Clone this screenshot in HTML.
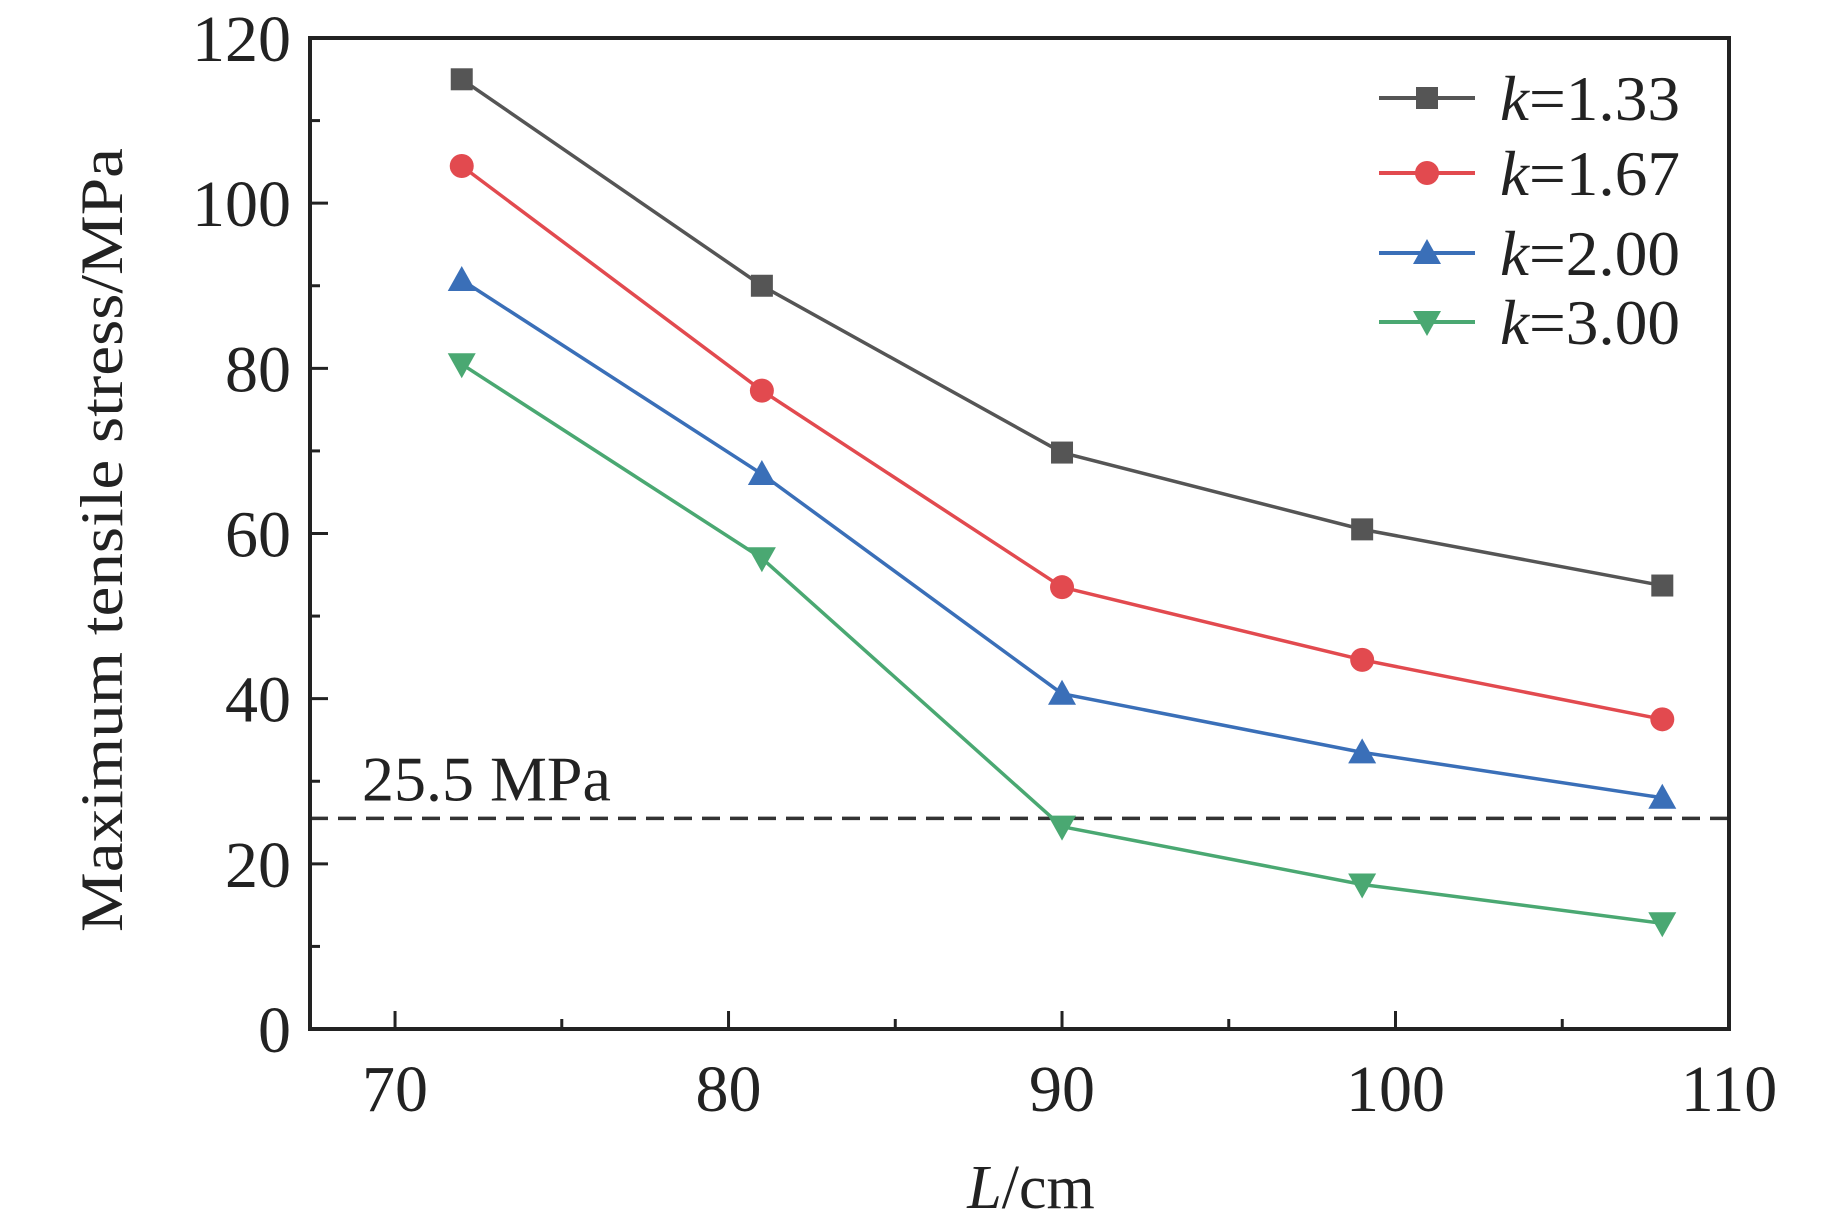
<!DOCTYPE html>
<html><head><meta charset="utf-8"><style>
html,body{margin:0;padding:0;background:#fff}
svg text{font-family:"Liberation Serif",serif;fill:#222}
</style></head><body>
<svg id="chart" width="1843" height="1220" xmlns="http://www.w3.org/2000/svg"></svg>
<script>
const categories=[72,81,90,99,108];
const s133=[115,90,69.8,60.5,53.7];
const s167=[104.5,77.3,53.5,44.7,37.5];
const s200=[90.7,67.2,40.6,33.5,28];
const s300=[80.5,57,24.5,17.5,12.8];
const seriesNames=["k=1.33","k=1.67","k=2.00","k=3.00"];
const xTicks=[70,80,90,100,110];
const yTicks=[0,20,40,60,80,100,120];
const threshold=25.5;

const L=310,R=1729,T=38,B=1029;
const X0=67.45,X1=110,Y0=0,Y1=120;
const sx=v=>L+(v-X0)/(X1-X0)*(R-L);
const sy=v=>B-(v-Y0)/(Y1-Y0)*(B-T);
const svg=document.getElementById('chart');
const NS='http://www.w3.org/2000/svg';
function mk(tag,attrs,parent){const e=document.createElementNS(NS,tag);for(const k in attrs)e.setAttribute(k,attrs[k]);(parent||svg).appendChild(e);return e;}

let th=mk('line',{x1:L,x2:R,y1:sy(threshold),y2:sy(threshold),stroke:'#333','stroke-width':3.5,'stroke-dasharray':'18,10'});


let tht=mk('text',{x:362,y:sy(threshold)-18,'font-size':64});
tht.textContent='25.5 MPa';



let fr=mk('rect',{x:L,y:T,width:R-L,height:B-T,fill:'none',stroke:'#222','stroke-width':4});



for(let v=70;v<=110;v+=5){
  const major=v%10===0;
  let t=mk('line',{x1:sx(v),x2:sx(v),y1:B,y2:B-(major?18:10),stroke:'#222','stroke-width':3});
  
  
}
xTicks.forEach(v=>{
  let t=mk('text',{x:sx(v),y:B+82,'font-size':66,'text-anchor':'middle'});
  t.textContent=v;
  
  
});
for(let v=0;v<=120;v+=10){
  const major=v%20===0;
  let t=mk('line',{x1:L,x2:L+(major?18:10),y1:sy(v),y2:sy(v),stroke:'#222','stroke-width':3});
  
  
}
yTicks.forEach(v=>{
  let t=mk('text',{x:291,y:sy(v)+23,'font-size':66,'text-anchor':'end'});
  t.textContent=v;
  
  
});
let xt=mk('text',{x:1031,y:1208,'font-size':62,'text-anchor':'middle'});
xt.innerHTML='<tspan font-style="italic">L</tspan>/cm';


let yt=mk('text',{x:0,y:0,'font-size':60,'text-anchor':'middle',transform:'translate(122,540) rotate(-90)',textLength:784,lengthAdjust:'spacingAndGlyphs'});
yt.textContent='Maximum tensile stress/MPa';



const colors=['#555555','#e24a4f','#3a6fb8','#4aa872'];
const markers=['square','circle','up','down'];
const all=[s133,s167,s200,s300];
function marker(type,x,y,c,p){
  if(type==='square')return mk('rect',{x:x-11,y:y-11,width:22,height:22,fill:c},p);
  if(type==='circle')return mk('circle',{cx:x,cy:y,r:12,fill:c},p);
  if(type==='up')return mk('polygon',{points:`${x},${y-14} ${x-14},${y+11} ${x+14},${y+11}`,fill:c},p);
  return mk('polygon',{points:`${x},${y+14} ${x-14},${y-11} ${x+14},${y-11}`,fill:c},p);
}
all.forEach((s,i)=>{
  const g=mk('g',{});
  
  
  let pl=mk('polyline',{points:s.map((v,j)=>sx(categories[j])+','+sy(v)).join(' '),fill:'none',stroke:colors[i],'stroke-width':3.5},g);
  
  
  s.forEach((v,j)=>{
    let m=marker(markers[i],sx(categories[j]),sy(v),colors[i],g);
    
    
  });
  const ly=[98,173,253,322][i];
  const lg=mk('g',{});
  
  
  mk('line',{x1:1379,x2:1475,y1:ly,y2:ly,stroke:colors[i],'stroke-width':4},lg);
  marker(markers[i],1427,ly,colors[i],lg);
  let lt=mk('text',{x:1500,y:ly+22,'font-size':64,textLength:180,lengthAdjust:'spacingAndGlyphs'},lg);
  lt.innerHTML='<tspan font-style="italic">k</tspan>='+seriesNames[i].slice(2);
});
</script>
</body></html>
